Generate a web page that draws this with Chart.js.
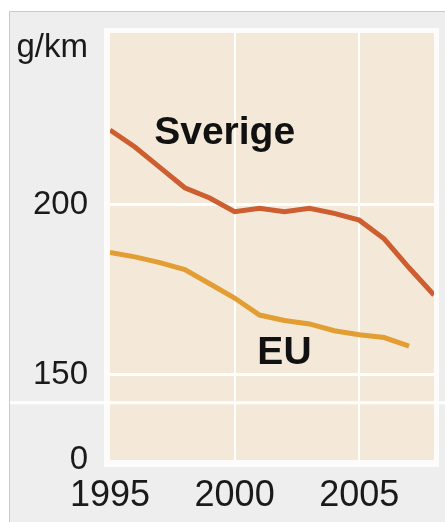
<!DOCTYPE html>
<html>
<head>
<meta charset="utf-8">
<script src="https://cdn.jsdelivr.net/npm/chart.js@4"></script>
<style>
  html, body { margin: 0; padding: 0; background: #fff; }
  #wrap { width: 445px; height: 522px; position: relative; }
</style>
</head>
<body>
<div id="wrap"><canvas id="chart"></canvas></div>
<script>
// data
const years = [1995, 1996, 1997, 1998, 1999, 2000, 2001, 2002, 2003, 2004, 2005, 2006, 2007, 2008];
const sverige = [222, 217, 211, 205, 202, 198, 199, 198, 199, 197.5, 195.5, 190, 181.5, 173.5];
const euYears = [1995, 1996, 1997, 1998, 1999, 2000, 2001, 2002, 2003, 2004, 2005, 2006, 2007];
const eu = [186, 184.7, 183, 181, 176.8, 172.6, 167.6, 166, 165, 163, 161.8, 161, 158.5];

const xTicks = [1995, 2000, 2005];
// broken axis: the bottom tick stands for 0, the top one carries the unit
const yTicks = [125, 150, 200, 246];
const yTickLabels = ['0', '150', '200', 'g/km'];
const gridYears = [2000, 2005];
const gridValues = [150, 200];
const breakValue = 141.8;

const seriesNames = ['Sverige', 'EU'];
const nameAnchors = [[1999.6, 221], [2002, 156.5]];

const FONT = '"Liberation Sans", Arial, sans-serif';

const backdrop = {
    id: 'backdrop',
    beforeDraw(chart) {
        const { ctx, chartArea: a, width, height } = chart;
        ctx.save();
        ctx.fillStyle = '#ffffff';
        ctx.fillRect(0, 0, width, height);
        ctx.fillStyle = '#eeeeef';
        ctx.fillRect(9, 11, width - 9, height - 11);
        ctx.strokeStyle = '#c9c9cb';
        ctx.lineWidth = 1;
        ctx.beginPath();
        ctx.moveTo(9.5, height);
        ctx.lineTo(9.5, 11.5);
        ctx.lineTo(width, 11.5);
        ctx.stroke();
        // white frame then beige plot
        ctx.fillStyle = '#fdfcfa';
        ctx.fillRect(a.left - 6, a.top - 5, a.width + 11, a.height + 12);
        ctx.fillStyle = '#f4e9d9';
        ctx.fillRect(a.left, a.top, a.width, a.height);
        ctx.restore();
    },
    beforeDatasetsDraw(chart) {
        const { ctx, width } = chart;
        const y = chart.scales.y.getPixelForValue(breakValue);
        ctx.save();
        ctx.strokeStyle = '#ffffff';
        ctx.lineWidth = 3;
        ctx.beginPath();
        ctx.moveTo(10, y);
        ctx.lineTo(width, y);
        ctx.stroke();
        ctx.restore();
    },
    afterDatasetsDraw(chart) {
        const { ctx } = chart;
        ctx.save();
        ctx.fillStyle = '#111111';
        ctx.font = 'bold 39px ' + FONT;
        ctx.textAlign = 'center';
        ctx.textBaseline = 'middle';
        seriesNames.forEach((name, i) => {
            const x = chart.scales.x.getPixelForValue(nameAnchors[i][0]);
            const y = chart.scales.y.getPixelForValue(nameAnchors[i][1]);
            ctx.fillText(name, x, y);
        });
        ctx.restore();
    }
};

new Chart(document.getElementById('chart'), {
    type: 'line',
    data: {
        datasets: [
            {
                label: 'Sverige',
                data: years.map((yr, i) => ({ x: yr, y: sverige[i] })),
                borderColor: '#cc5e30',
                borderWidth: 5,
                pointRadius: 0,
                tension: 0
            },
            {
                label: 'EU',
                data: euYears.map((yr, i) => ({ x: yr, y: eu[i] })),
                borderColor: '#e29d33',
                borderWidth: 5,
                pointRadius: 0,
                tension: 0
            }
        ]
    },
    options: {
        responsive: true,
        maintainAspectRatio: false,
        animation: false,
        layout: { padding: { left: 0, top: 33, right: 11, bottom: 0 } },
        plugins: {
            legend: { display: false },
            tooltip: { enabled: false }
        },
        scales: {
            x: {
                type: 'linear',
                min: 1995,
                max: 2008,
                afterBuildTicks: s => { s.ticks = xTicks.map(v => ({ value: v })); },
                afterFit: s => { s.height = 62; s.paddingLeft = 0; s.paddingRight = 0; },
                border: { display: false },
                grid: {
                    drawTicks: false,
                    lineWidth: 2,
                    color: c => gridYears.includes(c.tick && c.tick.value) ? '#ffffff' : 'rgba(0,0,0,0)'
                },
                ticks: {
                    padding: 14,
                    color: '#1a1a1a',
                    font: { family: FONT, size: 36 },
                    callback: v => String(v)
                }
            },
            y: {
                min: 125,
                max: 250.5,
                afterBuildTicks: s => { s.ticks = yTicks.map(v => ({ value: v })); },
                afterFit: s => { s.width = 110; s.paddingTop = 0; s.paddingBottom = 0; },
                border: { display: false },
                grid: {
                    drawTicks: false,
                    lineWidth: 3,
                    color: c => gridValues.includes(c.tick && c.tick.value) ? '#ffffff' : 'rgba(0,0,0,0)'
                },
                ticks: {
                    padding: 22,
                    color: '#1a1a1a',
                    font: { family: FONT, size: 33 },
                    callback: v => yTickLabels[yTicks.indexOf(v)]
                }
            }
        }
    },
    plugins: [backdrop]
});
</script>
</body>
</html>
